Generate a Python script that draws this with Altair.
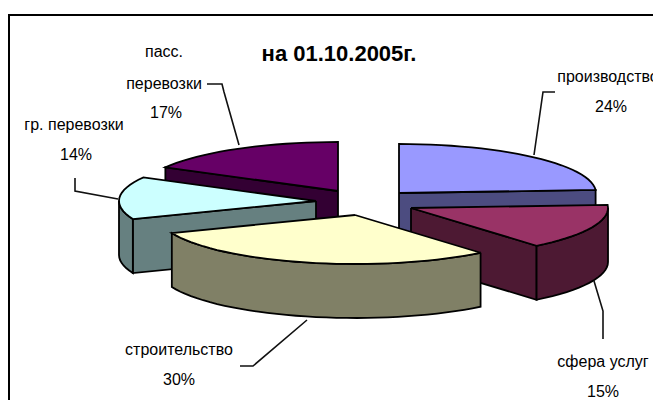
import math
import altair as alt
import pandas as pd

# ---- chart values ----
categories = ["производство", "сфера услуг", "строительство", "гр. перевозки", "пасс. перевозки"]
shares = [24, 15, 30, 14, 17]
top_colors = ["#9999FF", "#993366", "#FFFFCC", "#CCFFFF", "#660066"]
side_colors = ["#4C4C80", "#4D1933", "#808066", "#668080", "#330033"]
centers_x = [399, 411, 355, 316, 338]
centers_y = [193, 208, 215, 201, 191]
title_text = "на 01.10.2005г."

# ---- layout of the pseudo-3D pie ----
RX, RY, DEPTH = 197, 49, 54
draw_order = [4, 3, 0, 1, 2]
W, H = 645, 392
xs = alt.Scale(domain=[8, 653], range=[0, W])
ys = alt.Scale(domain=[400, 8], range=[H, 0])
LINE = 1.8


def pt(i, a, dz=0):
    r = math.radians(a)
    return (centers_x[i] + RX * math.sin(r), centers_y[i] - RY * math.cos(r) + dz)


def arc(i, a, b):
    n = max(2, int((b - a) / 3) + 1)
    return [pt(i, a + (b - a) * k / (n - 1)) for k in range(n)]


def face(points, fill):
    pts = list(points) + [points[0]]
    df = pd.DataFrame({"x": [p[0] for p in pts], "y": [p[1] for p in pts], "o": range(len(pts))})
    return alt.Chart(df).mark_line(fill=fill, stroke="#000000", strokeWidth=LINE, strokeJoin="miter", clip=False).encode(
        x=alt.X("x:Q", scale=xs, axis=None),
        y=alt.Y("y:Q", scale=ys, axis=None),
        order="o:Q",
    )


def polyline(px, py, color="#111111", width=1.6):
    df = pd.DataFrame({"x": px, "y": py, "o": range(len(px))})
    return alt.Chart(df).mark_line(stroke=color, strokeWidth=width).encode(
        x=alt.X("x:Q", scale=xs, axis=None),
        y=alt.Y("y:Q", scale=ys, axis=None),
        order="o:Q",
    )


starts = [sum(shares[:k]) * 3.6 for k in range(len(shares))]
ends = [sum(shares[:k + 1]) * 3.6 for k in range(len(shares))]

layers = []
# frame
layers.append(polyline([9, 9, 653], [400, 15, 15], "#000000", 2))

for i in draw_order:
    a, b = starts[i], ends[i]
    c = (centers_x[i], centers_y[i])
    if 180 < a % 360 < 360:
        p = pt(i, a)
        layers.append(face([c, p, (p[0], p[1] + DEPTH), (c[0], c[1] + DEPTH)], side_colors[i]))
    if 0 < b < 180:
        p = pt(i, b)
        layers.append(face([c, p, (p[0], p[1] + DEPTH), (c[0], c[1] + DEPTH)], side_colors[i]))
    ra, rb = max(a, 90), min(b, 270)
    if ra < rb:
        top_edge = arc(i, ra, rb)
        layers.append(face(top_edge + [(x, y + DEPTH) for x, y in reversed(top_edge)], side_colors[i]))
    layers.append(face([c] + arc(i, a, b), top_colors[i]))

# leader lines
layers.append(polyline([207, 222, 224, 239], [84, 84, 92, 145]))
layers.append(polyline([555, 543, 534], [92, 92, 155]))
layers.append(polyline([594, 603, 603], [281, 311, 339]))
layers.append(polyline([240, 253, 307], [366, 366, 320]))
layers.append(polyline([75, 75, 118], [178, 191, 199]))

# labels
label_text = ["пасс.", "перевозки", "17%", "гр. перевозки", "14%", "производство", "24%",
              "строительство", "30%", "сфера услуг", "15%"]
label_x = [164, 164, 166, 74, 76, 608, 611, 179, 179, 603, 603]
label_y = [52, 84, 113, 125, 155, 77, 107, 350, 380, 362, 392]
labels = pd.DataFrame({"t": label_text, "x": label_x, "y": label_y})
layers.append(
    alt.Chart(labels).mark_text(font="Liberation Sans", fontSize=16, color="#000000", align="center", baseline="middle").encode(
        x=alt.X("x:Q", scale=xs, axis=None), y=alt.Y("y:Q", scale=ys, axis=None), text="t:N"
    )
)
layers.append(
    alt.Chart(pd.DataFrame({"t": [title_text], "x": [339], "y": [54]})).mark_text(
        font="Liberation Sans", fontSize=22, fontWeight="bold", color="#000000", align="center", baseline="middle"
    ).encode(x=alt.X("x:Q", scale=xs, axis=None), y=alt.Y("y:Q", scale=ys, axis=None), text="t:N")
)

chart = (
    alt.layer(*layers)
    .properties(width=W, height=H, padding=0, autosize=alt.AutoSizeParams(type="none"), background="white")
    .configure_view(stroke=None)
)
chart.save("out.html", embed_options={"renderer": "svg", "actions": False})
